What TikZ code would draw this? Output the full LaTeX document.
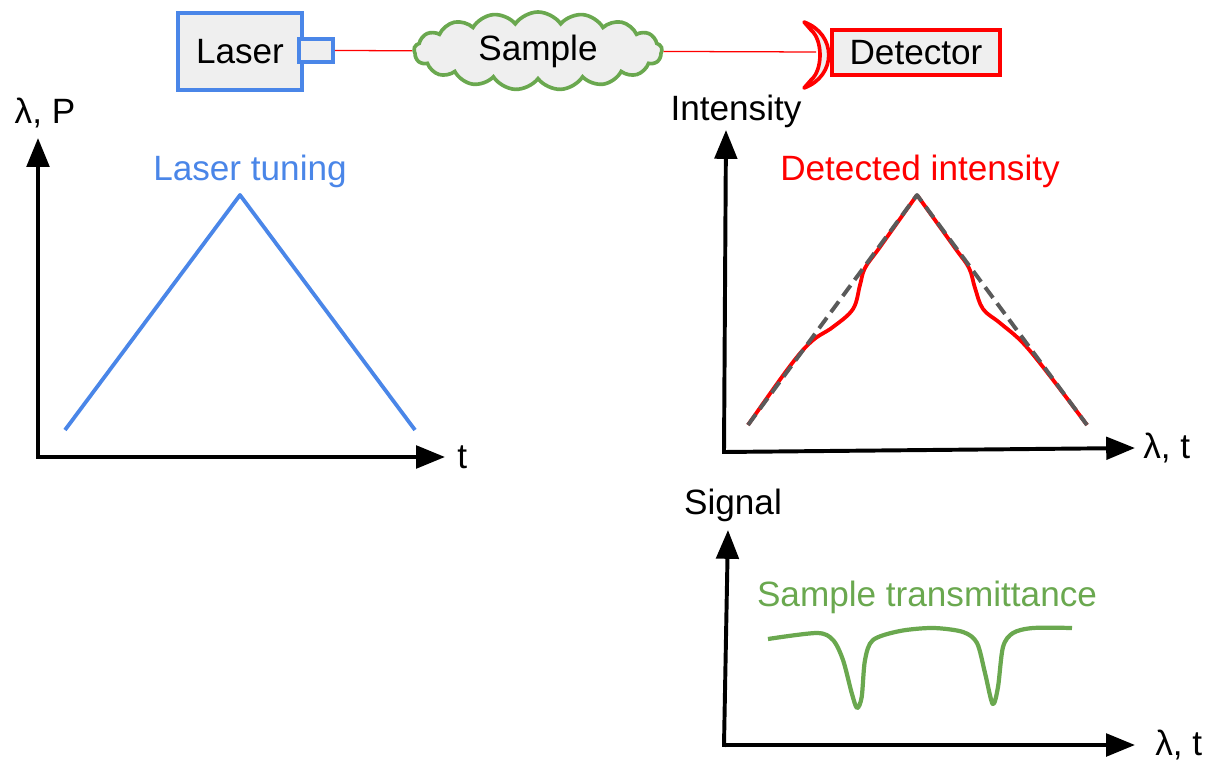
\documentclass[tikz,border=0pt]{standalone}
\usepackage{fontspec}
\setmainfont{Liberation Sans}
\usetikzlibrary{shapes.symbols, arrows.meta, positioning}
\definecolor{laserblue}{RGB}{74,134,232}
\definecolor{samplegreen}{RGB}{106,168,79}
\definecolor{detred}{RGB}{255,0,0}
\definecolor{boxgray}{RGB}{239,239,239}
\definecolor{dashgray}{RGB}{90,90,90}
\tikzset{
  part/.style={rectangle, draw, line width=2.6pt, fill=boxgray, inner sep=0pt,
    font=\fontsize{25}{30}\selectfont},
  laserpart/.style={part, draw=laserblue},
  detpart/.style={part, draw=detred, line width=3pt},
  axis/.style={-{Triangle[length=0.72cm, width=0.56cm]}, line width=2.8pt, line cap=rect},
  axlabel/.style={inner sep=0pt, font=\fontsize{25}{30}\selectfont},
  plottitle/.style={axlabel},
  beam/.style={draw=detred, line width=0.9pt},
  trace/.style={line width=2.7pt, line join=round},
}

\begin{document}
\begin{tikzpicture}[x=0.025cm, y=-0.025cm]
  \useasboundingbox (0,0) rectangle (1206,762);

  % optical setup
  \node[laserpart, minimum width=3.1cm, minimum height=1.925cm] (laser) at (240,51.5) {Laser};
  \node[laserpart, minimum width=0.85cm, minimum height=0.575cm] (head) at (316,50.5) {};
  \node[cloud, cloud puffs=17, cloud puff arc=110, aspect=3.2, draw=samplegreen, fill=boxgray,
        line width=2.6pt, minimum width=6.2cm, minimum height=1.95cm, inner sep=0pt,
        font=\fontsize{25}{30}\selectfont] (sample) at (538,51) {Sample};
  \node[detpart, minimum width=4.2cm, minimum height=1.125cm] (detector) at (916,52.5) {Detector};
  \coordinate (cup) at (816,52);
  \draw[beam] (head) -- (sample);
  \draw[beam] (sample) -- (cup);
  \draw[draw=detred, line width=2.6pt, fill=boxgray, line join=round]
    (804,22) .. controls (837,34) and (837,76) .. (804,88)
    -- (811,80) .. controls (823,70) and (823,40) .. (811,30) -- cycle;

  % laser tuning
  \coordinate (lo) at (38,457);
  \coordinate (ly) at (38,138);
  \coordinate (lx) at (445,457);
  \draw[axis] (lo) -- (ly);
  \draw[axis] (lo) -- (lx);
  \node[axlabel] (lyl) at (45,113) {λ, P};
  \node[axlabel, right=0.3cm of lx] (lxl) {t};
  \node[plottitle, text=laserblue] (tuning) at (250,171) {Laser tuning};
  \draw[trace, laserblue] (65,430) -- (240,195) -- (415,430);

  % detected intensity
  \coordinate (io) at (724,452);
  \coordinate (iy) at (726,130);
  \coordinate (ix) at (1135,448);
  \draw[axis] (io) -- (iy);
  \draw[axis] (io) -- (ix);
  \node[axlabel] (iyl) at (736,111) {Intensity};
  \node[axlabel, right=0.2cm of ix] (ixl) {λ, t};
  \node[plottitle, text=detred] (detected) at (920,171) {Detected intensity};
  \draw[trace, detred] plot[smooth, tension=0.6] coordinates {(917,195) (880,247) (865,268)
    (860,285) (853,309) (833,327) (812,341) (790,366) (748,425)};
  \draw[trace, detred] plot[smooth, tension=0.6] coordinates {(917,195) (955,248) (969,268)
    (975,288) (983,309) (1000,323) (1023,343) (1050,376) (1087,425)};
  \draw[trace, dashgray, line width=2.8pt, dash pattern=on 0.33cm off 0.17cm]
    (748,425) -- (917,195) -- (1087,425);

  % sample transmittance
  \coordinate (so) at (724,745);
  \coordinate (sy) at (728,530);
  \coordinate (sx) at (1135,745);
  \draw[axis] (so) -- (sy);
  \draw[axis] (so) -- (sx);
  \node[axlabel] (syl) at (733,505) {Signal};
  \node[axlabel, right=0.5cm of sx] (sxl) {λ, t};
  \node[plottitle, text=samplegreen] (transmit) at (927,597) {Sample transmittance};
  \draw[trace, samplegreen, line width=3pt] plot[smooth, tension=0.5] coordinates {(768,639) (817,633)
    (833,640) (843,660) (851.7,693) (857,708) (861.7,697) (865,660) (873,640) (900,631)
    (933,628) (963,632) (977,643) (985,673) (992.7,704) (998,687) (1003,647) (1013,633)
    (1033,628) (1072,628)};
\end{tikzpicture}
\end{document}
